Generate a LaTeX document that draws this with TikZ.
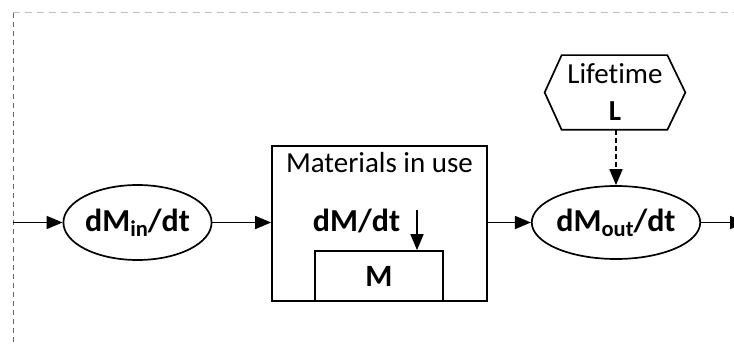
\documentclass[tikz,border=0pt]{standalone}
\usepackage{fontspec}
\setmainfont{Carlito}[Ligatures={NoCommon}]
\usetikzlibrary{arrows.meta,shapes.geometric}
\newcommand\lowidx[1]{\raisebox{-5pt}{\fontsize{22.5}{24}\selectfont #1}}
\begin{document}
\begin{tikzpicture}[x=1pt,y=-1pt,
  line width=1.7pt,
  arr/.style={-{Triangle[length=16pt,width=13pt]}},
  flow/.style={draw, ellipse, inner sep=0pt, font=\fontsize{32}{36}\selectfont\bfseries},
  plain/.style={font=\fontsize{29}{34}\selectfont},
  boldt/.style={font=\fontsize{31}{34}\selectfont\bfseries},
  rate/.style={font=\fontsize{32}{36}\selectfont\bfseries},
  frameA/.style={draw=black!60, line width=1pt, dash pattern=on 5pt off 4pt},
  frameB/.style={draw=black!25, line width=1pt, dash pattern=on 7pt off 5pt}]
\path[use as bounding box] (0,0) rectangle (734,344);
\clip (0,0) rectangle (734,344);
% frame
\coordinate (fc) at (13,13);
\coordinate (fb) at (13,344);
\coordinate (fr) at (734,13);
\draw[frameB] (fc) -- (fr);
\draw[frameA] (fc) -- (fb);
% inflow
\node[flow, minimum width=139pt, minimum height=75pt] (in) at (137.5,222.5) {dM\lowidx{in}/dt};
\coordinate (entry) at (13,222.5);
\draw[arr] (entry) -- (in.west);
% stock
\node[draw, minimum width=215pt, minimum height=155pt] (stock) at (379.5,223.5) {};
\node[plain, anchor=base] (title) at (379.5,173) {Materials in use};
\node[draw, boldt, minimum width=128pt, minimum height=50pt] (mbox) at (379,276) {M};
\node[rate, anchor=base, inner sep=0pt] (dmdt) at (356.5,232) {dM/dt};
\coordinate (dtop) at (417,210);
\draw[arr] (dtop) -- (dtop |- mbox.north);
\draw[arr] (in.east) -- (stock.west |- in.east);
% outflow
\node[flow, minimum width=148pt, minimum height=73pt] (out) at (616,222.5) {dM\lowidx{out}/dt};
\draw[arr] (stock.east |- out.west) -- (out.west);
\coordinate (exit) at (746,222.5);
\draw[arr] (out.east) -- (exit);
% lifetime
\node[plain, align=center, inner sep=0pt, minimum width=139pt, minimum height=73pt, font=\fontsize{29}{37}\selectfont] (hex) at (615,92.5) {Lifetime\\\textbf{L}};
\draw (hex.west) -- ([xshift=17pt]hex.north west) -- ([xshift=-18pt]hex.north east) -- (hex.east) -- ([xshift=-18pt]hex.south east) -- ([xshift=17pt]hex.south west) -- cycle;
\draw[arr, dash pattern=on 5pt off 3pt] (hex.south -| out.north) -- (out.north);
\end{tikzpicture}
\end{document}
